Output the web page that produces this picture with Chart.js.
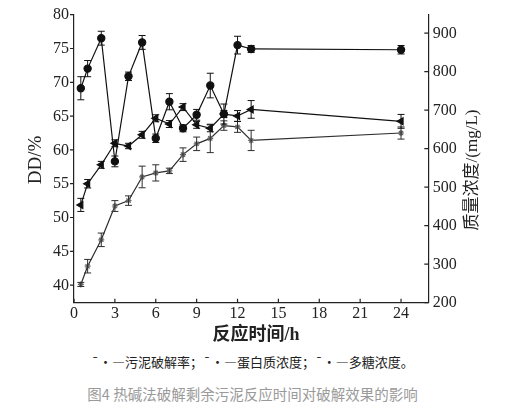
<!DOCTYPE html>
<html lang="zh">
<head>
  <meta charset="UTF-8">
  <title>反应时间对破解效果的影响</title>
  <script src="https://cdn.jsdelivr.net/npm/chart.js"></script>
  <style>
    body { margin: 0; background: #fff; width: 505px; height: 418px; position: relative; overflow: hidden; }
    #wrap { position: absolute; left: 0; top: 0; width: 505px; height: 345px; }
    .note { position: absolute; left: 0; width: 505px; text-align: center; font-family: "Noto Sans CJK SC", sans-serif; }
    #legendText { top: 352px; font-size: 13px; color: #222; }
    #caption { top: 383px; font-size: 14.5px; color: #9a9a9a; }
  </style>
</head>
<body>
<div id="wrap"><canvas id="chart"></canvas></div>
<div class="note" id="legendText">¯•—污泥破解率；¯•—蛋白质浓度；¯•—多糖浓度。</div>
<div class="note" id="caption">图4 热碱法破解剩余污泥反应时间对破解效果的影响</div>

<script>
  // reaction time (h)
  const hours = [0.5, 1, 2, 3, 4, 5, 6, 7, 8, 9, 10, 11, 12, 13, 24];

  // DD (%) - left axis
  const ddRate = [40.1, 42.8, 46.7, 51.7, 52.5, 56.0, 56.6, 56.9, 59.3, 60.9, 61.7, 63.6, 63.4, 61.4, 62.5];
  const ddErr = [0.3, 1.0, 1.0, 0.8, 0.7, 1.6, 1.2, 0.4, 1.0, 1.0, 2.1, 0.7, 0.8, 1.5, 0.9];

  // concentrations (mg/L) - right axis
  const protein = [757, 808, 887, 567, 788, 876, 627, 722, 653, 688, 764, 690, 869, 859, 857];
  const proteinErr = [30, 21, 18, 14, 11, 18, 11, 21, 9, 14, 32, 26, 23, 9, 11];
  const polysaccharide = [454, 509, 558, 614, 607, 636, 679, 664, 708, 662, 653, 690, 685, 702, 671];
  const polyErr = [17, 11, 9, 9, 7, 9, 9, 9, 9, 9, 9, 9, 14, 23, 18];

  const xTicks = [0, 3, 6, 9, 12, 15, 18, 21, 24];
  const leftTicks = [40, 45, 50, 55, 60, 65, 70, 75, 80];
  const rightTicks = [200, 300, 400, 500, 600, 700, 800, 900];

  const toPoints = (ys) => ys.map((y, i) => ({ x: hours[i], y: y }));

  // error bars
  const errorBars = {
      id: 'errorBars',
      afterDatasetsDraw(chart) {
          const ctx = chart.ctx;
          chart.data.datasets.forEach((ds, i) => {
              const meta = chart.getDatasetMeta(i);
              const ys = chart.scales[ds.yAxisID];
              ctx.save();
              ctx.strokeStyle = ds.borderColor;
              ctx.lineWidth = 1;
              meta.data.forEach((pt, j) => {
                  const v = ds.data[j].y, e = ds.errors[j];
                  const top = ys.getPixelForValue(v + e);
                  const bot = ys.getPixelForValue(v - e);
                  ctx.beginPath();
                  ctx.moveTo(pt.x, top); ctx.lineTo(pt.x, bot);
                  ctx.moveTo(pt.x - 3.5, top); ctx.lineTo(pt.x + 3.5, top);
                  ctx.moveTo(pt.x - 3.5, bot); ctx.lineTo(pt.x + 3.5, bot);
                  ctx.stroke();
              });
              ctx.restore();
          });
      }
  };

  // tick marks, tick labels and axis titles
  const axisDecor = {
      id: 'axisDecor',
      afterDraw(chart) {
          const ctx = chart.ctx;
          const { x, yL, yR } = chart.scales;
          const area = chart.chartArea;
          ctx.save();
          ctx.strokeStyle = '#222';
          ctx.lineWidth = 1.2;
          ctx.beginPath();
          leftTicks.forEach(t => {
              const p = yL.getPixelForValue(t);
              ctx.moveTo(area.left - 4, p); ctx.lineTo(area.left, p);
          });
          rightTicks.forEach(t => {
              const p = yR.getPixelForValue(t);
              ctx.moveTo(area.right - 4, p); ctx.lineTo(area.right, p);
          });
          xTicks.forEach(t => {
              const p = x.getPixelForValue(t);
              ctx.moveTo(p, area.bottom); ctx.lineTo(p, area.bottom - 4);
          });
          ctx.stroke();

          ctx.fillStyle = '#222';
          ctx.font = '16px "Liberation Serif", serif';
          ctx.textBaseline = 'middle';
          ctx.textAlign = 'right';
          leftTicks.forEach(t => ctx.fillText(String(t), area.left - 5, yL.getPixelForValue(t) + 0.5));
          ctx.textAlign = 'left';
          rightTicks.forEach(t => ctx.fillText(String(t), area.right + 4.5, yR.getPixelForValue(t) + 0.5));
          ctx.textAlign = 'center';
          xTicks.forEach(t => ctx.fillText(String(t), x.getPixelForValue(t), area.bottom + 11.5));

          ctx.font = 'bold 18px "Liberation Serif", "Noto Sans CJK SC", serif';
          ctx.fillText('反应时间/h', 256, 335);

          ctx.save();
          ctx.translate(36, 160);
          ctx.rotate(-Math.PI / 2);
          ctx.font = '19px "Liberation Serif", serif';
          ctx.fillText('DD/%', 0, 0);
          ctx.restore();

          ctx.save();
          ctx.translate(473, 170);
          ctx.rotate(-Math.PI / 2);
          ctx.font = '17px "Liberation Serif", "Noto Sans CJK SC", serif';
          ctx.fillText('质量浓度/(mg/L)', 0, 0);
          ctx.restore();
          ctx.restore();
      }
  };

  const ctx = document.getElementById('chart').getContext('2d');
  new Chart(ctx, {
      type: 'line',
      data: {
          datasets: [
              {
                  label: '污泥破解率',
                  data: toPoints(ddRate),
                  errors: ddErr,
                  yAxisID: 'yL',
                  borderColor: '#2e2e2e',
                  backgroundColor: '#777',
                  borderWidth: 1.2,
                  pointStyle: 'star',
                  pointRadius: 3,
                  pointBorderColor: '#666',
                  pointBorderWidth: 1.2
              },
              {
                  label: '蛋白质浓度',
                  data: toPoints(protein),
                  errors: proteinErr,
                  yAxisID: 'yR',
                  borderColor: '#111',
                  backgroundColor: '#111',
                  borderWidth: 1.2,
                  pointStyle: 'circle',
                  pointRadius: 3.6
              },
              {
                  label: '多糖浓度',
                  data: toPoints(polysaccharide),
                  errors: polyErr,
                  yAxisID: 'yR',
                  borderColor: '#111',
                  backgroundColor: '#111',
                  borderWidth: 1.2,
                  pointStyle: 'triangle',
                  pointRotation: -90,
                  pointRadius: 4
              }
          ]
      },
      options: {
          responsive: true,
          maintainAspectRatio: false,
          animation: false,
          layout: { padding: { top: 14.7, left: 0, right: 0, bottom: 0 } },
          plugins: { legend: { display: false }, tooltip: { enabled: false } },
          scales: {
              x: {
                  type: 'linear',
                  min: 0,
                  max: 26,
                  afterBuildTicks: (s) => { s.ticks = xTicks.map(v => ({ value: v })); },
                  afterFit: (s) => { s.height = 345 - 302.7; },
                  grid: { display: false, drawTicks: false },
                  border: { display: true, color: '#222', width: 1.2 },
                  ticks: { display: false }
              },
              yL: {
                  type: 'linear',
                  position: 'left',
                  min: 37.4,
                  max: 80,
                  afterBuildTicks: (s) => { s.ticks = leftTicks.map(v => ({ value: v })); },
                  afterFit: (s) => { s.width = 74; },
                  grid: { display: false, drawTicks: false },
                  border: { display: true, color: '#222', width: 1.2 },
                  ticks: { display: false }
              },
              yR: {
                  type: 'linear',
                  position: 'right',
                  min: 200,
                  max: 948,
                  afterBuildTicks: (s) => { s.ticks = rightTicks.map(v => ({ value: v })); },
                  afterFit: (s) => { s.width = 505 - 428.3; },
                  grid: { display: false, drawTicks: false },
                  border: { display: true, color: '#222', width: 1.2 },
                  ticks: { display: false }
              }
          }
      },
      plugins: [errorBars, axisDecor]
  });
</script>
</body>
</html>
